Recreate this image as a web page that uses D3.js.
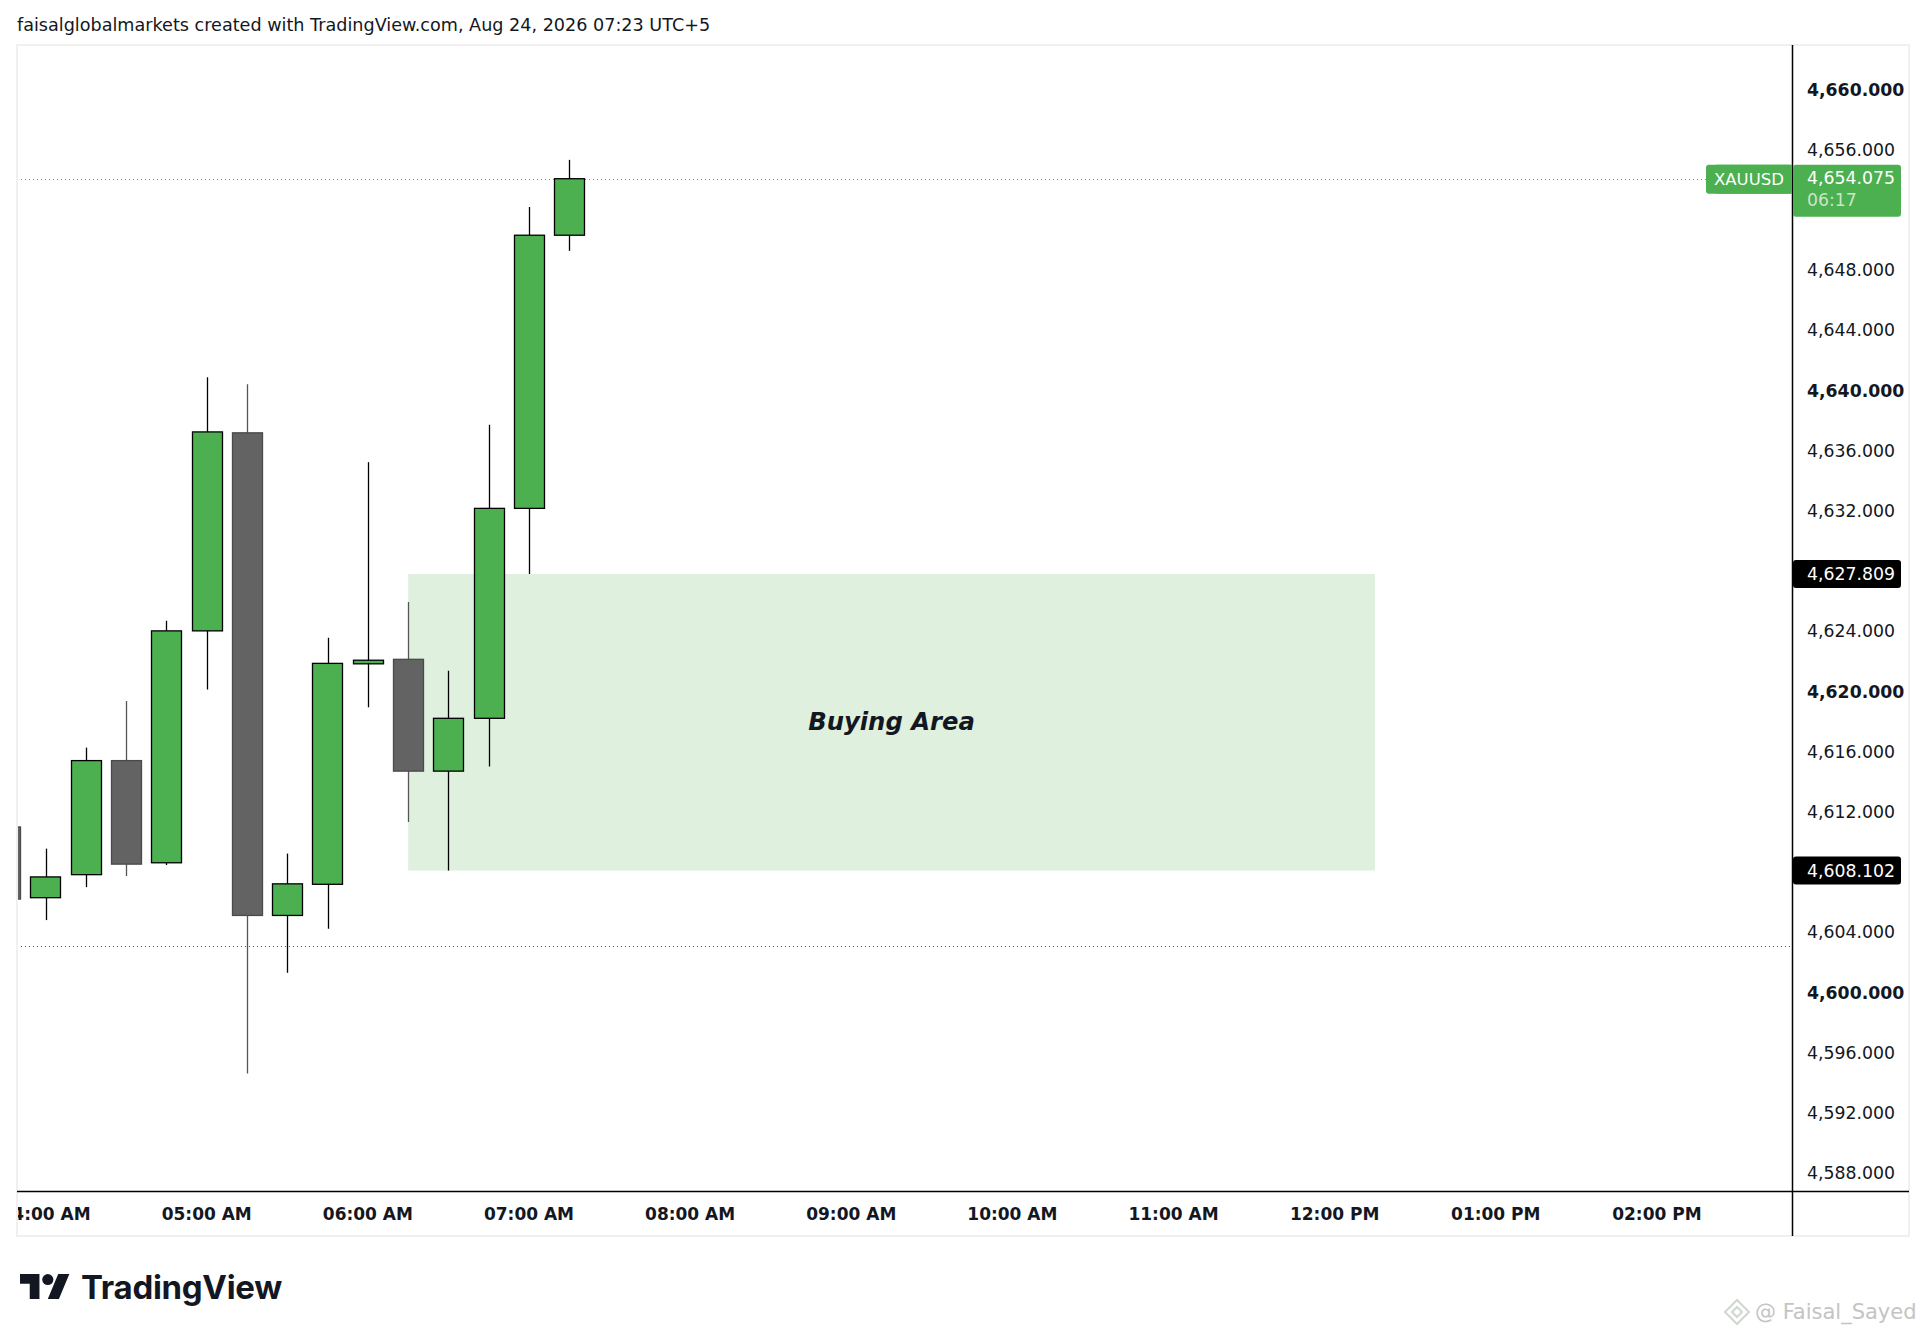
<!DOCTYPE html>
<html>
  <head>
    <meta charset="UTF-8" />
    <title>XAUUSD 15m</title>
    <style>
      body { margin: 0; background: #ffffff; }
      svg { display: block; }
    </style>
  </head>
  <body>
    <svg id="chart"></svg>

    <script src="https://d3js.org/d3.v7.min.js"></script>
    <script>
      // 15 minute XAUUSD candles
      const times = ["03:45", "04:00", "04:15", "04:30", "04:45", "05:00", "05:15", "05:30",
        "05:45", "06:00", "06:15", "06:30", "06:45", "07:00", "07:15"];
      const opens = [4611.0, 4606.3, 4607.83, 4615.41, 4608.62, 4624.03, 4637.19, 4605.12,
        4607.19, 4621.84, 4622.14, 4614.71, 4618.22, 4632.17, 4650.32];
      const highs = [4611.4, 4609.56, 4616.27, 4619.37, 4624.7, 4640.88, 4640.42, 4609.23,
        4623.57, 4635.24, 4625.95, 4621.38, 4637.72, 4652.2, 4655.33];
      const lows = [4605.8, 4604.81, 4607.0, 4607.74, 4608.47, 4620.13, 4594.61, 4601.31,
        4604.23, 4618.95, 4611.33, 4608.102, 4615.02, 4627.809, 4649.28];
      const closes = [4606.21, 4607.68, 4615.41, 4608.53, 4624.03, 4637.25, 4605.12, 4607.22,
        4621.87, 4622.08, 4614.71, 4618.22, 4632.17, 4650.32, 4654.075];

      // axis ticks (the ones hidden behind the price labels are left out)
      const priceTicks = [4588, 4592, 4596, 4600, 4604, 4612, 4616, 4620, 4624,
        4632, 4636, 4640, 4644, 4648, 4656, 4660];
      const hourTicks = ["04:00", "05:00", "06:00", "07:00", "08:00", "09:00", "10:00",
        "11:00", "12:00", "13:00", "14:00"];

      // drawing: buying zone
      const zoneTimes = ["06:15", "12:15"];
      const zonePrices = [4608.102, 4627.809];
      const zoneText = "Buying Area";

      const symbol = "XAUUSD";
      const lastPrice = 4654.075;
      const countdown = "06:17";
      const prevClose = 4603.08;

      const W = 1927, H = 1336;
      const pane = { left: 17, top: 45, right: 1792, bottom: 1191 };
      const outer = { right: 1909, bottom: 1236 };

      const parseT = (t) => d3.timeParse("%Y-%m-%d %H:%M")("2026-08-24 " + t);

      let svg = d3.select("#chart").attr("width", W).attr("height", H)
        .style("font-family", "'DejaVu Sans', sans-serif");

      let x = d3.scaleTime()
        .domain([parseT("04:00"), parseT("14:00")])
        .range([45.6, 1656.9]);
      let y = d3.scaleLinear()
        .domain([4586.81, 4662.96])
        .range([pane.bottom, pane.top]);

      const step = x(parseT("04:15")) - x(parseT("04:00"));
      const bodyW = step * 0.75;

      // title
      svg.append("text")
        .attr("x", 17).attr("y", 31)
        .style("font-size", "17.6px")
        .attr("fill", "#131722")
        .text("faisalglobalmarkets created with TradingView.com, Aug 24, 2026 07:23 UTC+5");

      // outer frame
      svg.append("rect")
        .attr("x", pane.left).attr("y", pane.top)
        .attr("width", outer.right - pane.left).attr("height", outer.bottom - pane.top)
        .attr("fill", "#ffffff").attr("stroke", "#f0f0f0").attr("stroke-width", 2);

      svg.append("clipPath").attr("id", "paneclip").append("rect")
        .attr("x", pane.left + 1).attr("y", pane.top)
        .attr("width", pane.right - pane.left - 1).attr("height", pane.bottom - pane.top);
      svg.append("clipPath").attr("id", "timeclip").append("rect")
        .attr("x", pane.left + 1).attr("y", pane.bottom)
        .attr("width", pane.right - pane.left - 1).attr("height", outer.bottom - pane.bottom);

      let plot = svg.append("g").attr("clip-path", "url(#paneclip)");

      // buying zone
      plot.append("rect")
        .attr("x", x(parseT(zoneTimes[0])))
        .attr("y", y(zonePrices[1]))
        .attr("width", x(parseT(zoneTimes[1])) - x(parseT(zoneTimes[0])))
        .attr("height", y(zonePrices[0]) - y(zonePrices[1]))
        .attr("fill", "#dff0de");

      plot.append("text")
        .attr("x", (x(parseT(zoneTimes[0])) + x(parseT(zoneTimes[1]))) / 2)
        .attr("y", (y(zonePrices[0]) + y(zonePrices[1])) / 2 + 8)
        .attr("text-anchor", "middle")
        .style("font-size", "24.3px").style("font-weight", "bold").style("font-style", "italic")
        .attr("fill", "#131722")
        .text(zoneText);

      // dotted lines: previous close and last price
      plot.append("line")
        .attr("x1", pane.left).attr("x2", pane.right)
        .attr("y1", Math.round(y(prevClose)) + 0.5).attr("y2", Math.round(y(prevClose)) + 0.5)
        .attr("stroke", "#555555").attr("stroke-dasharray", "1,3");
      plot.append("line")
        .attr("x1", pane.left).attr("x2", pane.right)
        .attr("y1", Math.round(y(lastPrice)) + 0.5).attr("y2", Math.round(y(lastPrice)) + 0.5)
        .attr("stroke", "#4caf50").attr("stroke-dasharray", "1,3");

      // candles
      let candles = times.map((t, i) => ({
        t: parseT(t), o: opens[i], h: highs[i], l: lows[i], c: closes[i]
      }));

      let cg = plot.append("g").selectAll("g").data(candles).enter().append("g");

      cg.append("line")
        .attr("x1", (d) => Math.round(x(d.t)) + 0.5)
        .attr("x2", (d) => Math.round(x(d.t)) + 0.5)
        .attr("y1", (d) => y(d.h))
        .attr("y2", (d) => y(d.l))
        .attr("stroke", (d) => (d.c >= d.o ? "#000000" : "#555555"))
        .attr("stroke-width", 1.3);

      cg.append("rect")
        .attr("x", (d) => Math.round(x(d.t) - bodyW / 2) + 0.5)
        .attr("y", (d) => y(Math.max(d.o, d.c)))
        .attr("width", Math.round(bodyW))
        .attr("height", (d) => Math.max(2, Math.abs(y(d.o) - y(d.c))))
        .attr("fill", (d) => (d.c >= d.o ? "#4caf50" : "#636363"))
        .attr("stroke", (d) => (d.c >= d.o ? "#000000" : "#4a4a4a"))
        .attr("stroke-width", 1.3);

      // price axis
      svg.append("line")
        .attr("x1", pane.right + 0.5).attr("x2", pane.right + 0.5)
        .attr("y1", pane.top).attr("y2", outer.bottom)
        .attr("stroke", "#000000").attr("stroke-width", 1.5);

      const fmt = d3.format(",.3f");
      svg.append("g").selectAll("text").data(priceTicks).enter().append("text")
        .attr("x", 1807)
        .attr("y", (d) => y(d) + 6)
        .style("font-size", "17.3px")
        .style("font-weight", (d) => (d % 20 === 0 ? "bold" : "normal"))
        .attr("fill", "#131722")
        .text((d) => fmt(d));

      // zone edge labels
      let zl = svg.append("g").selectAll("g").data(zonePrices).enter().append("g");
      zl.append("rect")
        .attr("x", pane.right + 1).attr("y", (d) => y(d) - 14)
        .attr("width", 108).attr("height", 28).attr("rx", 3)
        .attr("fill", "#000000");
      zl.append("text")
        .attr("x", 1807).attr("y", (d) => y(d) + 6)
        .style("font-size", "17.3px").attr("fill", "#ffffff")
        .text((d) => fmt(d));

      // last price label
      const ly = y(lastPrice);
      svg.append("rect")
        .attr("x", 1706).attr("y", ly - 14)
        .attr("width", pane.right - 1706).attr("height", 29).attr("rx", 3)
        .attr("fill", "#4caf50");
      svg.append("rect")
        .attr("x", 1706 + 10).attr("y", ly - 14)
        .attr("width", pane.right - 1716).attr("height", 29)
        .attr("fill", "#4caf50");
      svg.append("text")
        .attr("x", (1706 + pane.right) / 2).attr("y", ly + 6)
        .attr("text-anchor", "middle")
        .style("font-size", "16.5px").attr("fill", "#ffffff")
        .text(symbol);
      svg.append("rect")
        .attr("x", pane.right + 1).attr("y", ly - 14)
        .attr("width", 108).attr("height", 52).attr("rx", 3)
        .attr("fill", "#4caf50");
      svg.append("text")
        .attr("x", 1807).attr("y", ly + 5)
        .style("font-size", "17.3px").attr("fill", "#ffffff")
        .text(fmt(lastPrice));
      svg.append("text")
        .attr("x", 1807).attr("y", ly + 27)
        .style("font-size", "17.3px").attr("fill", "#ffffff").attr("fill-opacity", 0.7)
        .text(countdown);

      // time axis
      svg.append("line")
        .attr("x1", pane.left).attr("x2", outer.right)
        .attr("y1", pane.bottom + 0.5).attr("y2", pane.bottom + 0.5)
        .attr("stroke", "#000000").attr("stroke-width", 1.5);

      const tfmt = d3.timeFormat("%I:%M %p");
      svg.append("g").attr("clip-path", "url(#timeclip)")
        .selectAll("text").data(hourTicks).enter().append("text")
        .attr("x", (d) => x(parseT(d)))
        .attr("y", 1220)
        .attr("text-anchor", "middle")
        .style("font-size", "17px").style("font-weight", "bold")
        .attr("fill", "#131722")
        .text((d) => tfmt(parseT(d)));

      // TradingView logo
      let logo = svg.append("g").attr("transform", "translate(20," + (1274 - 4 * 1.39) + ") scale(1.39)")
        .attr("fill", "#131722");
      logo.append("path").attr("d", "M14 22H7V11H0V4h14v18zM28 22h-8l7.5-18h8L28 22z");
      logo.append("circle").attr("cx", 20).attr("cy", 8).attr("r", 4);
      svg.append("text")
        .attr("x", 81).attr("y", 1299)
        .style("font-family", "Inter, sans-serif")
        .style("font-size", "33px").style("font-weight", "bold")
        .style("letter-spacing", "-0.3px")
        .attr("fill", "#131722")
        .text("TradingView");

      // watermark
      let wm = svg.append("g").attr("transform", "translate(1737,1312)")
        .attr("fill", "none").attr("stroke", "#cfd8cf").attr("stroke-width", 2);
      wm.append("path").attr("d", "M0,-12 L12,0 L0,12 L-12,0 Z");
      wm.append("path").attr("d", "M0,-5 L5,0 L0,5 L-5,0 Z");
      svg.append("text")
        .attr("x", 1755).attr("y", 1319)
        .style("font-size", "21px")
        .attr("fill", "#c4c4c4")
        .text("@ Faisal_Sayed");
    </script>
  </body>
</html>
